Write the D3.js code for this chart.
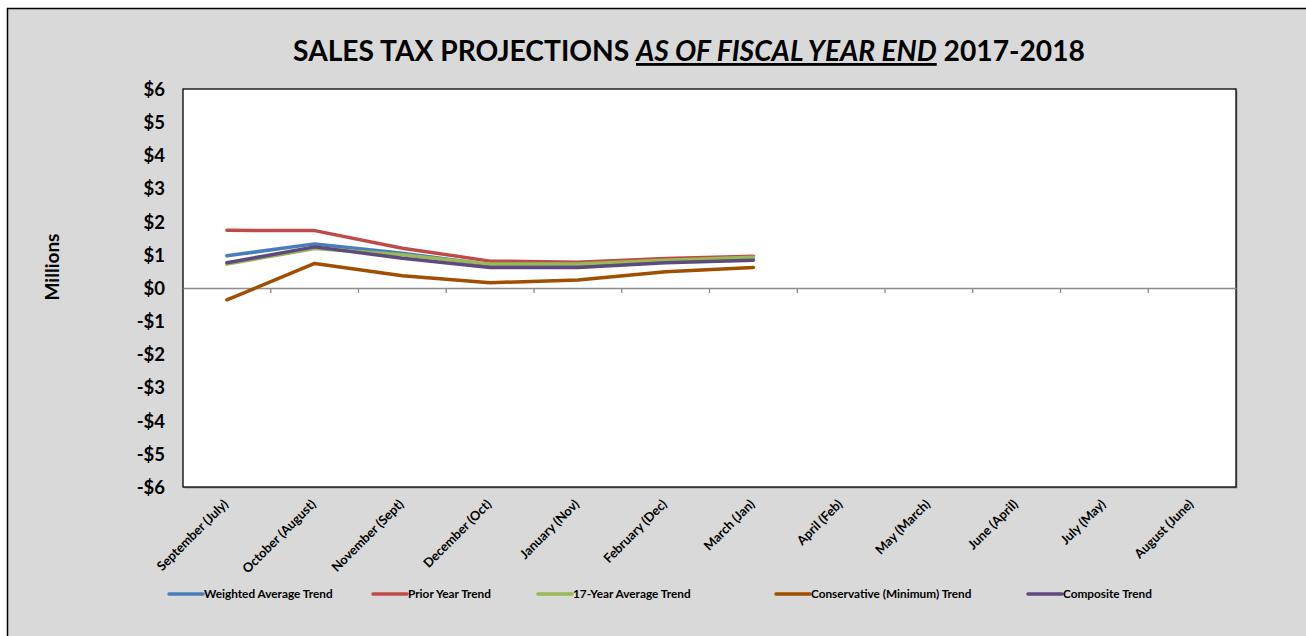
<!DOCTYPE html>
<html>
<head>
<meta charset="utf-8">
<script src="https://cdn.jsdelivr.net/npm/d3@7"></script>
<style>
  html, body { margin: 0; padding: 0; background: #fff; }
  svg { display: block; }
  text { font-family: Lato, "Open Sans", "DejaVu Sans", sans-serif; font-weight: bold; fill: #000; }
</style>
</head>
<body>
<svg id="chart" width="1306" height="636"></svg>
<script>
// Fiscal months (calendar month with the revenue month in brackets)
const categories = [
  "September (July)", "October (August)", "November (Sept)", "December (Oct)",
  "January (Nov)", "February (Dec)", "March (Jan)", "April (Feb)",
  "May (March)", "June (April)", "July (May)", "August (June)"
];

// Projection series, in millions of dollars (months without data are omitted)
const weightedAverage = [0.97, 1.33, 1.05, 0.70, 0.68, 0.82, 0.90];
const priorYear       = [1.74, 1.73, 1.20, 0.81, 0.78, 0.89, 0.96];
const seventeenYear   = [0.72, 1.19, 1.00, 0.72, 0.72, 0.84, 0.93];
const conservative    = [-0.36, 0.74, 0.37, 0.16, 0.24, 0.49, 0.62];
const composite       = [0.76, 1.24, 0.90, 0.62, 0.62, 0.76, 0.84];

const yTicks = [6, 5, 4, 3, 2, 1, 0, -1, -2, -3, -4, -5, -6];

const seriesNames  = ["Weighted Average Trend", "Prior Year Trend", "17-Year Average Trend",
                      "Conservative (Minimum) Trend", "Composite Trend"];
const seriesValues = [weightedAverage, priorYear, seventeenYear, conservative, composite];
const seriesColors = ["#4a7ebb", "#be4b48", "#98b954", "#a04e00", "#5f4a7d"];

const svg = d3.select("#chart");
const W = 1306, H = 636;

// chart background and frame
svg.append("rect").attr("x", 0).attr("y", 0).attr("width", W).attr("height", H).attr("fill", "#fff");
svg.append("rect").attr("x", 7.5).attr("y", 8.5).attr("width", W + 20).attr("height", H + 20)
  .attr("fill", "#d9d9d9").attr("stroke", "#000").attr("stroke-width", 1.5);

const plot = { left: 183, top: 89, right: 1236, bottom: 487 };

const x = d3.scaleBand().domain(categories).range([plot.left, plot.right]);
const y = d3.scaleLinear().domain([-6, 6]).range([plot.bottom, plot.top]);

// plot area with a soft shadow
svg.append("rect").attr("x", plot.left + 1.5).attr("y", plot.top + 1.5)
  .attr("width", plot.right - plot.left).attr("height", plot.bottom - plot.top)
  .attr("fill", "#9a9a9a");
svg.append("rect").attr("x", plot.left).attr("y", plot.top)
  .attr("width", plot.right - plot.left).attr("height", plot.bottom - plot.top)
  .attr("fill", "#fff").attr("stroke", "#000").attr("stroke-width", 1.3);

// title
const title = svg.append("text").attr("x", 689).attr("y", 61).attr("text-anchor", "middle")
  .style("font-size", "28.2px");
title.append("tspan").text("SALES TAX PROJECTIONS ");
title.append("tspan").text("AS OF FISCAL YEAR END").style("font-style", "italic")
  .style("text-decoration", "underline");
title.append("tspan").text(" 2017-2018");

// y axis labels
const yAxis = d3.axisLeft(y).tickValues(yTicks).tickSize(0).tickPadding(18)
  .tickFormat(d => (d < 0 ? "-$" : "$") + Math.abs(d));
const gy = svg.append("g").attr("transform", `translate(${plot.left},0)`).call(yAxis);
gy.select(".domain").remove();
gy.selectAll("text").style("font-size", "18.5px").attr("dy", "0.35em");

svg.append("text").attr("transform", `translate(59,267) rotate(-90)`)
  .attr("text-anchor", "middle").style("font-size", "19px").text("Millions");

// zero line with category tick marks
const xAxis = d3.axisBottom(x).tickSize(0).tickFormat("");
const gx = svg.append("g").attr("transform", `translate(0,${y(0)})`).call(xAxis);
gx.select(".domain").attr("stroke", "#8c8c8c").attr("stroke-width", 1.3);
gx.selectAll(".tick").remove();
const boundaries = categories.slice(1).map(c => x(c));
gx.selectAll("line.sep").data(boundaries).enter().append("line")
  .attr("x1", d => d).attr("x2", d => d).attr("y1", 0).attr("y2", 5)
  .attr("stroke", "#8c8c8c").attr("stroke-width", 1.3);

// rotated category labels
svg.append("g").selectAll("text").data(categories).enter().append("text")
  .attr("transform", d => `translate(${x(d) + x.bandwidth() / 2 + 2},${plot.bottom + 18}) rotate(-45)`)
  .attr("text-anchor", "end").style("font-size", "12.8px").text(d => d);

// series lines
const line = d3.line()
  .x((d, i) => x(categories[i]) + x.bandwidth() / 2)
  .y(d => y(d));

seriesValues.forEach((vals, i) => {
  svg.append("path").datum(vals).attr("d", line)
    .attr("fill", "none").attr("stroke", seriesColors[i]).attr("stroke-width", 3.5)
    .attr("stroke-linejoin", "round").attr("stroke-linecap", "round");
});

// legend
const legendX = [169, 373, 538, 776, 1028];
const lg = svg.append("g");
seriesNames.forEach((name, i) => {
  lg.append("line").attr("x1", legendX[i]).attr("x2", legendX[i] + 34)
    .attr("y1", 594).attr("y2", 594)
    .attr("stroke", seriesColors[i]).attr("stroke-width", 3.5).attr("stroke-linecap", "round");
  lg.append("text").attr("x", legendX[i] + 35).attr("y", 594).attr("dy", "0.35em")
    .style("font-size", "11.8px").text(name);
});
</script>
</body>
</html>
